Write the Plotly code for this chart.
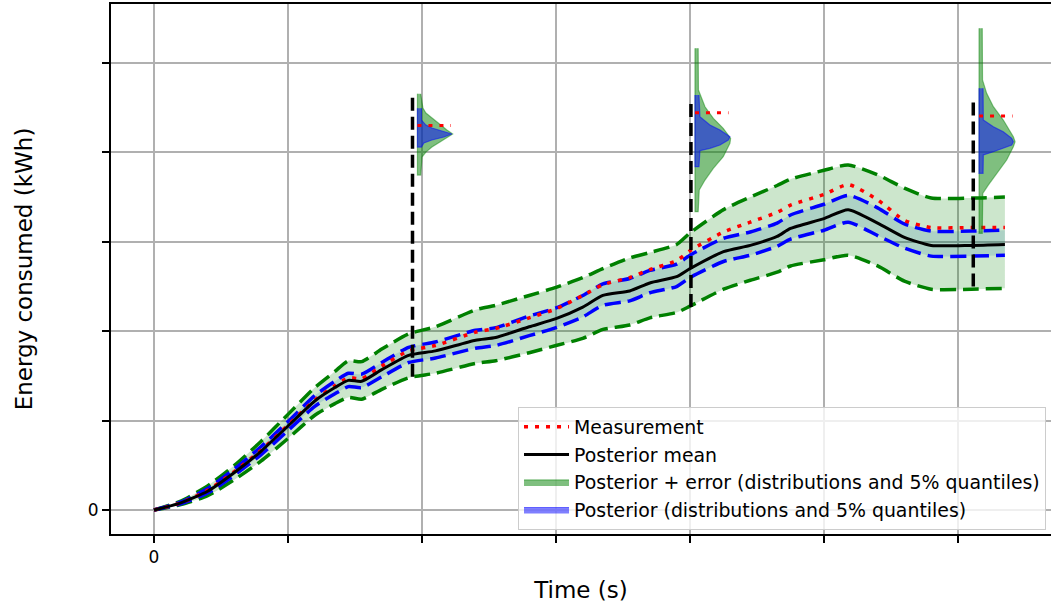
import plotly.graph_objects as go

# ---- time series (time in s, energy in kWh) ----
time_s = [0, 200, 400, 600, 800, 1000, 1200, 1350, 1450, 1550, 1700, 1900, 2100, 2400, 2550,
          2800, 3000, 3200, 3350, 3550, 3700, 3900, 4000, 4250, 4450, 4650, 4750, 5000, 5180,
          5400, 5600, 5800, 6100, 6350]
posterior_mean = [0, 0.08, 0.21, 0.42, 0.66, 0.94, 1.22, 1.37, 1.45, 1.44, 1.57, 1.73, 1.78, 1.90, 1.93,
                  2.05, 2.14, 2.27, 2.40, 2.45, 2.54, 2.61, 2.70, 2.89, 2.96, 3.06, 3.15, 3.26, 3.36,
                  3.21, 3.05, 2.96, 2.96, 2.97]
posterior_lo = [0, 0.07, 0.19, 0.39, 0.62, 0.89, 1.16, 1.30, 1.38, 1.37, 1.49, 1.65, 1.70, 1.81, 1.84,
                1.95, 2.04, 2.16, 2.29, 2.34, 2.43, 2.50, 2.60, 2.78, 2.85, 2.95, 3.03, 3.13, 3.22,
                3.07, 2.93, 2.84, 2.84, 2.85]
posterior_hi = [0, 0.09, 0.24, 0.46, 0.71, 0.99, 1.28, 1.44, 1.53, 1.52, 1.65, 1.82, 1.88, 2.01, 2.04,
                2.17, 2.26, 2.40, 2.53, 2.59, 2.68, 2.75, 2.85, 3.04, 3.11, 3.21, 3.30, 3.42, 3.52,
                3.38, 3.20, 3.12, 3.12, 3.13]
error_lo = [0, 0.06, 0.16, 0.34, 0.55, 0.80, 1.06, 1.19, 1.26, 1.24, 1.35, 1.48, 1.53, 1.64, 1.67,
            1.76, 1.84, 1.92, 2.02, 2.07, 2.15, 2.21, 2.28, 2.47, 2.57, 2.66, 2.73, 2.80, 2.85,
            2.73, 2.56, 2.47, 2.47, 2.48]
error_hi = [0, 0.10, 0.27, 0.50, 0.77, 1.07, 1.37, 1.55, 1.67, 1.66, 1.80, 1.97, 2.05, 2.24, 2.29,
            2.40, 2.49, 2.60, 2.70, 2.82, 2.88, 2.97, 3.10, 3.36, 3.50, 3.63, 3.70, 3.80, 3.86,
            3.75, 3.60, 3.49, 3.49, 3.50]
measurement = [0, 0.08, 0.22, 0.43, 0.67, 0.95, 1.23, 1.39, 1.48, 1.47, 1.61, 1.78, 1.84, 1.99, 2.03,
               2.15, 2.25, 2.40, 2.52, 2.60, 2.69, 2.79, 2.90, 3.11, 3.22, 3.33, 3.41, 3.53, 3.64,
               3.47, 3.24, 3.16, 3.16, 3.16]

# ---- snapshot markers (vertical dashed lines) ----
snap_t = [1929, 4007, 6114]
snap_lo = [1.49, 2.27, 2.50]
snap_hi = [4.62, 4.60, 4.57]

# ---- distributions drawn sideways next to each snapshot ----
dist_base_t = [1966, 4037, 6157]
dist_meas = [4.30, 4.444, 4.407]
meas_mark_len = 250

g1_levels = [4.655, 4.497, 4.441, 4.385, 4.318, 4.251, 4.206, 4.161, 4.116, 4.060, 4.004, 3.948, 3.747]
g1_width = [24, 41, 63, 108, 168, 220, 263, 220, 168, 108, 63, 34, 24]
b1_levels = [4.494, 4.362, 4.306, 4.273, 4.239, 4.206, 4.172, 4.139, 4.105, 4.060]
b1_width = [30, 30, 63, 108, 183, 257, 198, 108, 48, 30]

g2_levels = [5.164, 4.698, 4.511, 4.381, 4.269, 4.158, 4.102, 3.952, 3.822, 3.691, 3.579, 3.337]
g2_width = [24, 26, 75, 137, 211, 266, 261, 211, 137, 75, 32, 24]
b2_levels = [4.642, 4.400, 4.306, 4.251, 4.176, 4.139, 4.083, 4.046, 4.019, 3.840]
b2_width = [30, 37, 112, 187, 261, 249, 187, 112, 37, 30]

g3_levels = [5.388, 4.810, 4.661, 4.511, 4.362, 4.176, 4.120, 4.064, 3.915, 3.766, 3.635, 3.542, 3.095]
g3_width = [24, 26, 57, 107, 181, 256, 269, 256, 206, 132, 69, 28, 24]
b3_levels = [4.717, 4.362, 4.287, 4.232, 4.158, 4.120, 4.083, 4.046, 4.008, 3.971, 3.766]
b3_width = [30, 32, 107, 181, 244, 256, 244, 181, 107, 32, 30]

x_ticks = [0, 1000, 2000, 3000, 4000, 5000, 6000]
y_ticks = [0, 1, 2, 3, 4, 5]
x_ticktext = ["0", "", "", "", "", "", ""]
y_ticktext = ["0", "", "", "", "", ""]

FONT = "DejaVu Sans"
GREEN_FILL = "rgba(0,128,0,0.5)"
BLUE_FILL = "rgba(0,0,255,0.5)"
SMOOTH = dict(shape="spline", smoothing=0.6)

fig = go.Figure()

# error band (posterior + error)
fig.add_trace(go.Scatter(x=time_s, y=error_lo, mode="lines", line=dict(width=0, **SMOOTH),
                         showlegend=False, hoverinfo="skip"))
fig.add_trace(go.Scatter(x=time_s, y=error_hi, mode="lines", line=dict(width=0, **SMOOTH),
                         fill="tonexty", fillcolor="rgba(0,128,0,0.2)",
                         showlegend=False, hoverinfo="skip"))
# posterior band
fig.add_trace(go.Scatter(x=time_s, y=posterior_lo, mode="lines", line=dict(width=0, **SMOOTH),
                         showlegend=False, hoverinfo="skip"))
fig.add_trace(go.Scatter(x=time_s, y=posterior_hi, mode="lines", line=dict(width=0, **SMOOTH),
                         fill="tonexty", fillcolor="rgba(0,100,160,0.15)",
                         showlegend=False, hoverinfo="skip"))

# quantile outlines
for series in (error_lo, error_hi):
    fig.add_trace(go.Scatter(x=time_s, y=series, mode="lines",
                             line=dict(color="green", width=3.5, dash="16px,7px", **SMOOTH),
                             showlegend=False, hoverinfo="skip"))
for series in (posterior_lo, posterior_hi):
    fig.add_trace(go.Scatter(x=time_s, y=series, mode="lines",
                             line=dict(color="blue", width=3.5, dash="16px,7px", **SMOOTH),
                             showlegend=False, hoverinfo="skip"))

fig.add_trace(go.Scatter(x=time_s, y=measurement, mode="lines", name="Measurement", legendrank=1,
                         line=dict(color="red", width=3.5, dash="4px,7px", **SMOOTH)))
fig.add_trace(go.Scatter(x=time_s, y=posterior_mean, mode="lines", name="Posterior mean", legendrank=2,
                         line=dict(color="black", width=3, **SMOOTH)))

# snapshot lines
for t, lo, hi in zip(snap_t, snap_lo, snap_hi):
    fig.add_trace(go.Scatter(x=[t, t], y=[lo, hi], mode="lines",
                             line=dict(color="black", width=3.5, dash="13px,6px"),
                             showlegend=False, hoverinfo="skip"))


def side_shape(base, levels, widths):
    xs = [base + w for w in widths] + [base, base]
    ys = list(levels) + [levels[-1], levels[0]]
    return xs, ys


dists = [
    (dist_base_t[0], g1_levels, g1_width, b1_levels, b1_width),
    (dist_base_t[1], g2_levels, g2_width, b2_levels, b2_width),
    (dist_base_t[2], g3_levels, g3_width, b3_levels, b3_width),
]
for i, (base, gl, gw, bl, bw) in enumerate(dists):
    gx, gy = side_shape(base, gl, gw)
    fig.add_trace(go.Scatter(x=gx, y=gy, mode="lines", fill="toself", fillcolor=GREEN_FILL,
                             line=dict(color="rgba(0,128,0,0.45)", width=1.2),
                             name="Posterior + error (distributions and 5% quantiles)",
                             showlegend=(i == 0), legendrank=3, hoverinfo="skip"))
    bx, by = side_shape(base, bl, bw)
    fig.add_trace(go.Scatter(x=bx, y=by, mode="lines", fill="toself", fillcolor=BLUE_FILL,
                             line=dict(color="rgba(0,0,255,0.5)", width=1.2),
                             name="Posterior (distributions and 5% quantiles)",
                             showlegend=(i == 0), legendrank=4, hoverinfo="skip"))
    fig.add_trace(go.Scatter(x=[base, base + meas_mark_len], y=[dist_meas[i], dist_meas[i]],
                             mode="lines", line=dict(color="red", width=3, dash="4px,7px"),
                             showlegend=False, hoverinfo="skip"))

fig.update_layout(
    width=1051, height=608,
    margin=dict(l=111, r=0, t=4, b=74),
    plot_bgcolor="white", paper_bgcolor="white",
    font=dict(family=FONT, size=18, color="black"),
    legend=dict(x=0.9947, y=0.0075, xanchor="right", yanchor="bottom",
                bgcolor="rgba(255,255,255,0.8)", bordercolor="#cccccc", borderwidth=1,
                font=dict(family=FONT, size=18.9), traceorder="normal", itemwidth=45),
    showlegend=True,
)
fig.update_xaxes(range=[-321, 6694], tickvals=x_ticks, ticktext=x_ticktext,
                 tickfont=dict(family=FONT, size=17),
                 showgrid=True, gridcolor="#b0b0b0", gridwidth=1.6, zeroline=False,
                 showline=True, linecolor="black", linewidth=1.8, mirror=True,
                 ticks="outside", ticklen=7, tickwidth=1.8, tickcolor="black",
                 title=dict(text="Time (s)", font=dict(family=FONT, size=23), standoff=16))
fig.update_yaxes(range=[-0.268, 5.660], tickvals=y_ticks, ticktext=y_ticktext,
                 tickfont=dict(family=FONT, size=17),
                 showgrid=True, gridcolor="#b0b0b0", gridwidth=1.6, zeroline=False,
                 showline=True, linecolor="black", linewidth=1.8, mirror=False,
                 ticks="outside", ticklen=7, tickwidth=1.8, tickcolor="black",
                 title=dict(text="Energy consumed (kWh)", font=dict(family=FONT, size=23), standoff=49))

fig.write_html("out.html", config={"displayModeBar": False})
